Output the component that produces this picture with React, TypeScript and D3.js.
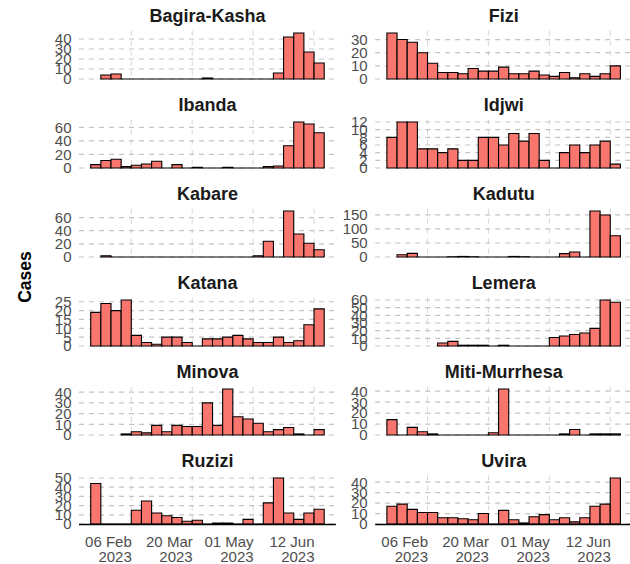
import React from "react";
import * as d3 from "d3";

// ---- data ----
const districts = [
  "Bagira-Kasha", "Fizi", "Ibanda", "Idjwi", "Kabare", "Kadutu",
  "Katana", "Lemera", "Minova", "Miti-Murrhesa", "Ruzizi", "Uvira",
];
const N = null;
const bagiraKasha = [N, 4, 5, 0, 0, 0, 0, 0, 0, 0, 0, 1, 0, 0, 0, 0, 0, 0, 6, 42, 46, 27, 16];
const fizi = [35, 30, 28, 20, 12, 5, 5, 4, 8, 6, 6, 9, 4, 4, 6, 3, 2, 5, 1, 4, 2, 4, 10];
const ibanda = [5, 11, 13, 2, 4, 6, 10, 0, 5, 0, 1, 0, 0, 1, 0, 0, 0, 2, 3, 33, 68, 65, 52];
const idjwi = [8, 12, 12, 5, 5, 4, 5, 2, 2, 8, 8, 6, 9, 7, 9, 2, 0, 4, 6, 4, 6, 7, 1];
const kabare = [N, 2, 0, 0, 0, 0, 0, 0, 0, 0, 0, 0, 0, 0, 0, 0, 2, 24, 0, 70, 35, 21, 11];
const kadutu = [N, 8, 13, 0, 0, 0, 1, 2, 1, 0, 0, 0, 2, 1, 0, 0, 0, 12, 18, 0, 164, 150, 76];
const katana = [19, 24, 20, 26, 6, 2, 1, 5, 5, 2, 0, 4, 4, 5, 6, 4, 2, 2, 5, 2, 3, 12, 21];
const lemera = [N, N, N, N, N, 4, 6, 1, 1, 1, 0, 1, 0, 0, 0, 0, 11, 13, 15, 17, 23, 60, 57];
const minova = [N, N, N, 1, 3, 2, 9, 3, 9, 8, 8, 30, 9, 43, 17, 15, 11, 3, 5, 7, 1, 0, 5];
const mitiMurrhesa = [14, 0, 7, 3, 1, 0, 0, 0, 0, 0, 2, 42, 0, 0, 0, 0, 0, 1, 5, 0, 1, 1, 1];
const ruzizi = [44, 0, 0, 0, 15, 25, 12, 9, 7, 3, 4, 0, 1, 1, 0, 5, 0, 23, 50, 12, 5, 12, 16];
const uvira = [17, 19, 14, 11, 11, 6, 6, 5, 4, 10, 0, 13, 4, 1, 7, 9, 4, 6, 2, 6, 17, 19, 44];
const seriesValues = [
  bagiraKasha, fizi, ibanda, idjwi, kabare, kadutu,
  katana, lemera, minova, mitiMurrhesa, ruzizi, uvira,
];
const yTickSteps = [10, 10, 20, 2, 20, 50, 5, 10, 10, 10, 10, 10];
const firstWeek = "2023-01-09";
const xTickDates = ["2023-02-06", "2023-03-20", "2023-05-01", "2023-06-12"];
const xTickLabels = [["06 Feb", "2023"], ["20 Mar", "2023"], ["01 May", "2023"], ["12 Jun", "2023"]];
const yAxisTitle = "Cases";

// ---- layout ----
const W = 630, H = 564;
const colDataRange = [[90.7, 324.2], [386.9, 620.4]];
const EXP = 11.7;
const firstBottom = 79;
const rowStep = 89;
const panelH = 48.3;
const FONT = "'Liberation Sans', Arial, Helvetica, sans-serif";
const FILL = "#F8766D";

const parse = (s: string) => new Date(s + "T00:00:00Z");
const DAY = 86400000;

export default function App() {
  const start = parse(firstWeek);
  const nBins = fizi.length;
  const edges = d3.range(nBins + 1).map((i) => new Date(start.getTime() + i * 7 * DAY));
  const xDomain = [edges[0], edges[nBins]];

  const panels = districts.map((name, k) => {
    const col = k % 2, row = Math.floor(k / 2);
    const [r0, r1] = colDataRange[col];
    const x = d3.scaleUtc().domain(xDomain).range([r0, r1]);
    const left = r0 - EXP, right = r1 + EXP;
    const bottom = firstBottom + rowStep * row;
    const top = bottom - panelH;
    const vals = seriesValues[k];
    const maxV = d3.max(vals.filter((v) => v != null) as number[]) as number;
    const y = d3.scaleLinear().domain([0, maxV * 1.05]).range([bottom, top]);
    const step = yTickSteps[k];
    const ticks = d3.range(0, maxV * 1.05 + 1e-9, step);
    return (
      <g key={name}>
        {/* vertical grid */}
        {xTickDates.map((d) => (
          <line key={d} x1={x(parse(d))} x2={x(parse(d))} y1={top} y2={bottom}
            stroke="#d6d6d6" strokeWidth={1} strokeDasharray="5,5" />
        ))}
        {/* horizontal grid */}
        {ticks.map((t) => (
          <line key={t} x1={left} x2={right} y1={y(t)} y2={y(t)}
            stroke="#c4c4c4" strokeWidth={1.2} strokeDasharray="5,5" />
        ))}
        {/* y tick labels */}
        {ticks.map((t) => (
          <text key={"l" + t} x={left - 7.5} y={y(t)} dy="0.36em" textAnchor="end"
            fontFamily={FONT} fontSize={15} fill="#4D4D4D">{t}</text>
        ))}
        {/* bars */}
        {vals.map((v, i) => {
          if (v == null) return null;
          const x0 = x(edges[i]), x1 = x(edges[i + 1]);
          const y0 = y(0), y1 = y(v);
          return (
            <path key={i} d={`M${x0},${y0}V${y1}H${x1}V${y0}Z`}
              fill={FILL} stroke="#000" strokeWidth={1.1} />
          );
        })}
        {/* strip title */}
        <text x={(left + right) / 2} y={top - 8.5} textAnchor="middle"
          fontFamily={FONT} fontSize={18} fontWeight="bold" fill="#1A1A1A">{name}</text>
        {/* bottom row axis */}
        {row === 5 && (
          <g>
            <line x1={left} x2={right} y1={bottom + 0.5} y2={bottom + 0.5} stroke="#000" strokeWidth={1.4} />
            {xTickDates.map((d, j) => (
              <text key={d} x={x(parse(d)) + 0.5} y={bottom + 22.5} textAnchor="end"
                fontFamily={FONT} fontSize={15} fill="#4D4D4D">
                <tspan x={x(parse(d)) + 0.5}>{xTickLabels[j][0]}</tspan>
                <tspan x={x(parse(d)) + 0.5} dy={15}>{xTickLabels[j][1]}</tspan>
              </text>
            ))}
          </g>
        )}
      </g>
    );
  });

  return (
    <div style={{ position: "absolute", left: 0, top: 0 }}>
      <svg width={W} height={H} viewBox={`0 0 ${W} ${H}`} style={{ display: "block", background: "#fff" }}>
        <rect x={0} y={0} width={W} height={H} fill="#fff" />
        {panels}
        <text transform={`translate(31,277) rotate(-90)`} textAnchor="middle"
          fontFamily={FONT} fontSize={17.5} fontWeight="bold" fill="#000">{yAxisTitle}</text>
      </svg>
    </div>
  );
}
